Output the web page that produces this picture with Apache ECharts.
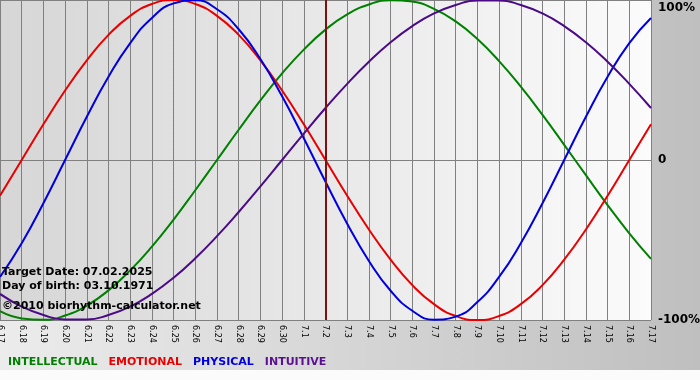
<!DOCTYPE html>
<html>
<head>
<meta charset="utf-8">
<script src="https://cdn.jsdelivr.net/npm/echarts@6/dist/echarts.min.js"></script>
<style>
  html, body { margin: 0; padding: 0; background: #fff; }
  #chart { width: 700px; height: 380px; }
</style>
</head>
<body>
<div id="chart"></div>
<script>
// days shown, 6.17 .. 7.17
var days = ['6.17','6.18','6.19','6.20','6.21','6.22','6.23','6.24','6.25','6.26','6.27','6.28','6.29','6.30',
  '7.1','7.2','7.3','7.4','7.5','7.6','7.7','7.8','7.9','7.10','7.11','7.12','7.13','7.14','7.15','7.16','7.17'];

// values in %
var intellectual = [-94.5,-99.0,-99.9,-97.2,-91.0,-81.5,-69.0,-54.1,-37.2,-18.9,0,18.9,37.2,54.1,69.0,81.5,
  91.0,97.2,99.9,99.0,94.5,86.6,75.6,61.8,45.8,28.2,9.5,-9.5,-28.2,-45.8,-61.8];
var emotional = [-22.3,0,22.3,43.4,62.3,78.2,90.1,97.5,100,97.5,90.1,78.2,62.3,43.4,22.3,0,
  -22.3,-43.4,-62.3,-78.2,-90.1,-97.5,-100,-97.5,-90.1,-78.2,-62.3,-43.4,-22.3,0,22.3];
var physical = [-73.1,-52.0,-27.0,0,27.0,52.0,73.1,88.8,97.9,99.8,94.2,81.7,63.1,39.8,13.6,-13.6,
  -39.8,-63.1,-81.7,-94.2,-99.8,-97.9,-88.8,-73.1,-52.0,-27.0,0,27.0,52.0,73.1,88.8];
var intuitive = [-83.7,-91.6,-96.9,-99.7,-99.7,-96.9,-91.6,-83.7,-73.6,-61.4,-47.6,-32.5,-16.5,0,16.5,32.5,
  47.6,61.4,73.6,83.7,91.6,96.9,99.7,99.7,96.9,91.6,83.7,73.6,61.4,47.6,32.5];

var targetDay = '7.2';
var infoLines = ['Target Date: 07.02.2025', 'Day of birth: 03.10.1971', '\u00a92010 biorhythm-calculator.net'];

var FONT = 'DejaVu Sans';
var chart = echarts.init(document.getElementById('chart'));

function curve(name, data, color) {
    return {
        name: name,
        type: 'line',
        data: data,
        smooth: 0.5,
        symbol: 'none',
        lineStyle: { color: color, width: 2 },
        itemStyle: { color: color }
    };
}

var lbl = { fontFamily: FONT, fontWeight: 'bold', fontSize: 12, color: '#000' };

var series = [
    curve('INTELLECTUAL', intellectual, '#008000'),
    curve('EMOTIONAL', emotional, '#e80000'),
    curve('PHYSICAL', physical, '#0000dd'),
    curve('INTUITIVE', intuitive, '#4b0a86')
];
// today marker
series[1].markLine = {
    silent: true,
    symbol: 'none',
    label: { show: false },
    lineStyle: { color: '#7a1212', width: 2, type: 'solid' },
    data: [{ xAxis: targetDay }]
};

chart.setOption({
    animation: false,
    backgroundColor: new echarts.graphic.LinearGradient(0, 0, 1, 0, [
        { offset: 0, color: '#ececec' },
        { offset: 1, color: '#bfbfbf' }
    ]),
    grid: {
        left: 0, right: 49, top: 0, bottom: 60,
        outerBoundsMode: 'none',
        containLabel: false,
        show: true,
        borderWidth: 0,
        backgroundColor: new echarts.graphic.LinearGradient(0, 0, 1, 0, [
            { offset: 0, color: '#d6d6d6' },
            { offset: 1, color: '#fbfbfb' }
        ])
    },
    legend: {
        left: 3,
        top: 357,
        padding: 0,
        itemGap: 6,
        itemWidth: 0,
        itemHeight: 0,
        icon: 'rect',
        textStyle: { fontFamily: FONT, fontWeight: 'bold', fontSize: 11 },
        data: [
            { name: 'INTELLECTUAL', textStyle: { color: '#008000' } },
            { name: 'EMOTIONAL', textStyle: { color: '#e80000' } },
            { name: 'PHYSICAL', textStyle: { color: '#0000dd' } },
            { name: 'INTUITIVE', textStyle: { color: '#5a1090' } }
        ]
    },
    xAxis: {
        type: 'category',
        data: days,
        boundaryGap: false,
        axisLine: { lineStyle: { color: '#808080', width: 1 } },
        axisTick: { show: true, length: 4, interval: 0, lineStyle: { color: '#808080' } },
        axisLabel: {
            interval: 0, rotate: -90, margin: 5,
            fontFamily: FONT, fontSize: 8, color: '#000'
        },
        splitLine: { show: true, interval: 0, lineStyle: { color: '#808080', width: 1 } }
    },
    yAxis: {
        type: 'value',
        position: 'right',
        min: -100, max: 100, interval: 100,
        axisLine: { show: false },
        axisTick: { show: false },
        axisLabel: {
            margin: 7,
            formatter: function (v) {
                if (v === 100) return '{top|100%}';
                return '{mid|' + (v === 0 ? '0' : v + '%') + '}';
            },
            rich: {
                top: Object.assign({ padding: [16, 0, 0, 0] }, lbl),
                mid: lbl
            }
        },
        splitLine: { show: true, lineStyle: { color: '#808080', width: 1 } }
    },
    graphic: [
        { type: 'rect', left: 0, top: 370, z: 100, shape: { width: 700, height: 10 }, style: { fill: '#fbfbfb' } },
        { type: 'text', x: 2, y: 272, z: 100, style: { text: infoLines[0], font: 'bold 11px ' + FONT, fill: '#000', verticalAlign: 'middle' } },
        { type: 'text', x: 2, y: 286, z: 100, style: { text: infoLines[1], font: 'bold 11px ' + FONT, fill: '#000', verticalAlign: 'middle' } },
        { type: 'text', x: 2, y: 306, z: 100, style: { text: infoLines[2], font: 'bold 11px ' + FONT, fill: '#000', verticalAlign: 'middle' } }
    ],
    series: series
});
</script>
</body>
</html>
